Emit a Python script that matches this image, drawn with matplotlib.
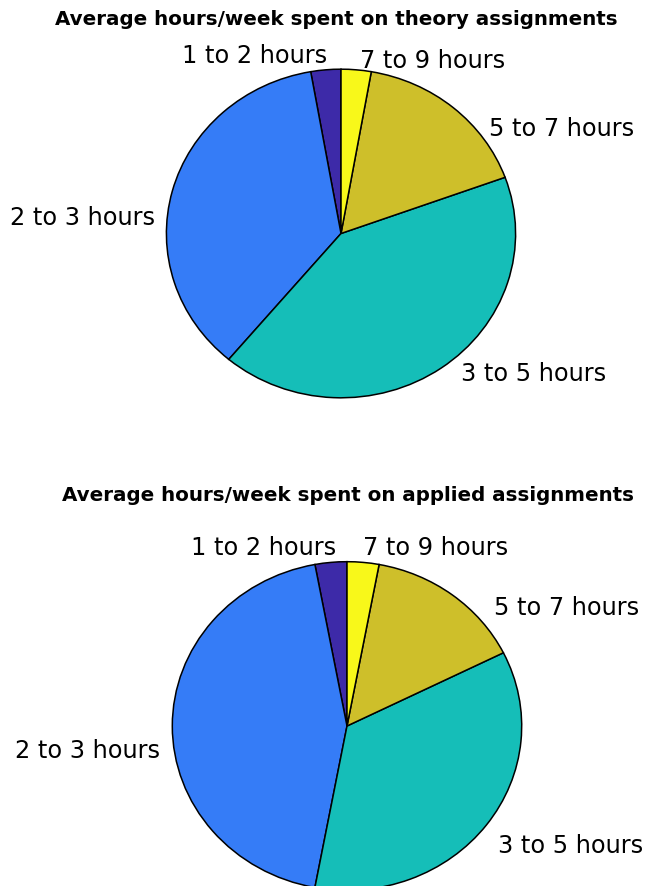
import numpy as np
import matplotlib.pyplot as plt

# hours per week, number of students in each bracket
labels = ["1 to 2 hours", "2 to 3 hours", "3 to 5 hours", "5 to 7 hours", "7 to 9 hours"]
theory = [1, 13, 15, 6, 1]
applied = [1, 15, 12, 5, 1]

titles = ["Average hours/week spent on theory assignments",
          "Average hours/week spent on applied assignments"]

colors = ["#3d2aa8", "#357cf7", "#15beb8", "#cebf2a", "#f8f81a"]

# label anchors (x, y, ha) in pie units for each chart
theory_lbl = [(-0.080, 1.038, "right"), (-1.065, 0.052, "right"), (0.687, -0.898, "left"),
              (0.848, 0.593, "left"), (0.109, 1.007, "left")]
applied_lbl = [(-0.063, 1.041, "right"), (-1.070, -0.195, "right"), (0.864, -0.773, "left"),
               (0.841, 0.676, "left"), (0.092, 1.041, "left")]

W, H = 645, 886
fig = plt.figure(figsize=(W / 100, H / 100), dpi=100)

# axes boxes in pixels: left, top, width, height
boxes = [(166.4, 69.2, 349.2, 328.6), (172.3, 561.7, 349.4, 328.6)]
title_pos = [(336.5, 25), (348, 501)]

for data, lbls, box, title, tpos in zip([theory, applied], [theory_lbl, applied_lbl],
                                          boxes, titles, title_pos):
    l, t, w, h = box
    ax = fig.add_axes([l / W, 1 - (t + h) / H, w / W, h / H])
    ax.pie(data, colors=colors, startangle=90, counterclock=True, radius=1,
           wedgeprops=dict(edgecolor="black", linewidth=1.1))
    ax.set_aspect("auto")
    ax.set_xlim(-1, 1)
    ax.set_ylim(-1, 1)
    ax.axis("off")
    for name, (x, y, ha) in zip(labels, lbls):
        ax.text(x, y, name, ha=ha, va="baseline", fontsize=17.3, clip_on=False)
    fig.text(tpos[0] / W, 1 - tpos[1] / H, title, ha="center", va="baseline",
             fontsize=14.3, fontweight="bold")

fig.savefig("out.png", dpi=100)
